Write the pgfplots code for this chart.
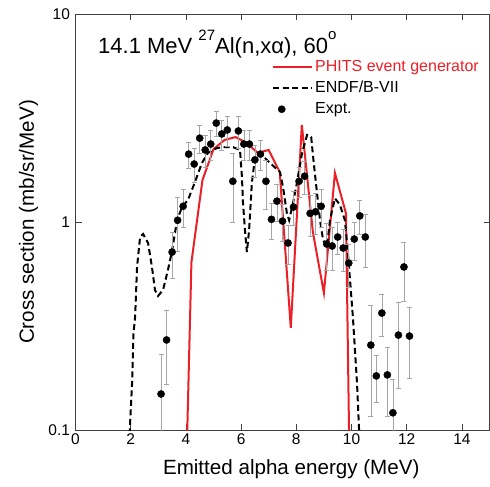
\documentclass[border=0pt]{standalone}
\usepackage{fontspec}
\setmainfont{Liberation Sans}
\usepackage{pgfplots}
\usepackage{pgfplotstable}
\pgfplotsset{compat=1.18}
\definecolor{phred}{RGB}{235,32,38}

\pgfplotstableread{
x y
1.80 0.03
1.97 0.103
2.05 0.168
2.10 0.29
2.16 0.349
2.23 0.608
2.34 0.847
2.45 0.876
2.63 0.792
2.77 0.608
2.88 0.471
2.99 0.441
3.17 0.471
3.35 0.588
3.49 0.717
3.68 1.02
3.86 1.18
4.08 1.28
4.33 1.56
4.58 1.92
4.80 2.15
5.13 2.27
5.42 2.29
5.71 2.29
5.96 2.22
6.03 1.65
6.07 1.23
6.14 0.915
6.21 0.717
6.29 0.915
6.39 1.54
6.50 2.03
6.68 2.15
7.05 1.92
7.41 1.74
7.52 1.47
7.66 1.10
7.74 1.02
7.88 1.23
8.02 1.54
8.21 2.15
8.39 2.62
8.54 2.56
8.61 2.05
8.75 1.38
8.86 1.02
8.97 0.82
9.11 0.759
9.22 1.02
9.40 1.30
9.58 1.21
9.76 1.02
9.87 0.71
10.05 0.35
10.20 0.168
10.27 0.103
10.40 0.05
}\endf

\pgfplotstableread{
x y
3.80 0.0045
4.20 0.64
4.60 1.59
5.00 2.24
5.40 2.48
5.80 2.56
6.20 2.40
6.60 2.15
7.00 2.22
7.40 1.74
7.80 0.31
8.20 2.93
8.60 0.895
9.00 0.456
9.40 1.72
9.80 1.10
10.20 0.00018
}\phits

\pgfplotstableread{
x y e
3.1 0.149 0.083
3.3 0.271 0.106
3.5 0.717 0.18
3.7 1.02 0.30
3.9 1.19 0.25
4.1 2.12 0.30
4.3 1.90 0.35
4.5 2.53 0.40
4.7 2.22 0.38
4.9 2.37 0.39
5.1 2.99 0.41
5.3 2.65 0.45
5.5 2.77 0.45
5.7 1.57 0.57
5.9 2.74 0.48
6.1 2.37 0.39
6.3 2.37 0.39
6.5 1.99 0.35
6.7 2.12 0.35
6.9 1.57 0.42
7.1 1.03 0.20
7.3 1.26 0.25
7.5 1.01 0.20
7.7 0.793 0.17
7.9 1.18 0.22
8.1 1.57 0.26
8.3 1.66 0.30
8.5 1.10 0.25
8.7 1.12 0.25
8.9 1.19 0.25
9.1 0.784 0.20
9.3 0.767 0.18
9.5 0.847 0.15
9.7 0.750 0.17
9.9 0.635 0.15
10.1 0.828 0.17
10.3 1.07 0.20
10.5 0.847 0.24
10.7 0.256 0.14
10.9 0.182 0.046
11.1 0.365 0.082
11.3 0.184 0.067
11.5 0.121 0.055
11.7 0.286 0.127
11.9 0.608 0.19
12.1 0.283 0.105
}\expt

\begin{document}
\begin{tikzpicture}
\begin{axis}[
  scale only axis, width=414pt, height=416pt,
  xmin=0, xmax=15, ymin=0.1, ymax=10, ymode=log,
  xtick={0,2,...,14}, xticklabels={0,2,4,6,8,10,12,14},
  ytick={0.1,1,10}, yticklabels={0.1,1,10},
  yminorticks=false, xminorticks=false,
  tick align=inside, major tick length=6pt,
  axis line style={black!75, line width=0.8pt},
  every tick/.style={black!75, line width=0.8pt},
  tick label style={font=\fontsize{15.5}{16}\selectfont},
  yticklabel style={xshift=-2pt},
  /pgf/number format/assume math mode=true,
  xlabel={Emitted alpha energy (MeV)},
  ylabel={Cross section (mb/sr/MeV)},
  every axis x label/.style={at={([xshift=8.75pt,yshift=-44pt]rel axis cs:0.5,0)}, anchor=base, font=\fontsize{20.6}{22}\selectfont},
  every axis y label/.style={at={([xshift=-41.5pt]rel axis cs:0,0.5)}, rotate=90, anchor=base, font=\fontsize{20.6}{22}\selectfont},
  legend style={draw=none, fill=none, font=\fontsize{16}{18}\selectfont,
    at={([xshift=196.5pt,yshift=-44pt]rel axis cs:0,1)}, anchor=north west,
    inner sep=0pt, row sep=4.5pt, cells={anchor=west},
    /tikz/every even column/.append style={column sep=6pt}},
]
\addplot[phred, line width=2pt,
  legend image code/.code={\draw[phred, line width=2pt] (0pt,0pt) -- (39pt,0pt);}]
  table[x=x,y=y] {\phits};
\addlegendentry{\textcolor{phred}{PHITS event generator}}
\addplot[black, line width=2pt, dash pattern=on 6pt off 3.5pt,
  legend image code/.code={\draw[black, line width=1.8pt, dash pattern=on 6pt off 3.5pt] (0pt,0pt) -- (39pt,0pt);}]
  table[x=x,y=y] {\endf};
\addlegendentry{ENDF/B-VII}
\addplot[only marks, mark=*, mark size=3.6pt, black,
  mark options={fill=black},
  error bars/.cd, y dir=both, y explicit,
  error bar style={black!35, line width=0.6pt},
  error mark options={black!35, line width=0.6pt, mark size=2.5pt, rotate=90}]
  table[x=x,y=y,y error=e] {\expt};
\addlegendimage{legend image code/.code={\draw[black, mark=*, mark size=3.6pt, mark options={fill=black}] plot coordinates {(19.5pt,0pt)};}}
\addlegendentry{Expt.}
\node[anchor=base west, font=\fontsize{22}{24}\selectfont, inner sep=0pt]
  at ([xshift=22.5pt,yshift=-39pt]rel axis cs:0,1)
  {14.1 MeV \raisebox{0.55em}{\fontsize{15}{15}\selectfont 27}Al(n,xα), 60\raisebox{0.6em}{\fontsize{15}{15}\selectfont o}};
\end{axis}
\path ([xshift=-75.5pt,yshift=-56pt]current axis.south west) rectangle ([xshift=0.5pt,yshift=14pt]current axis.north east);
\end{tikzpicture}
\end{document}
